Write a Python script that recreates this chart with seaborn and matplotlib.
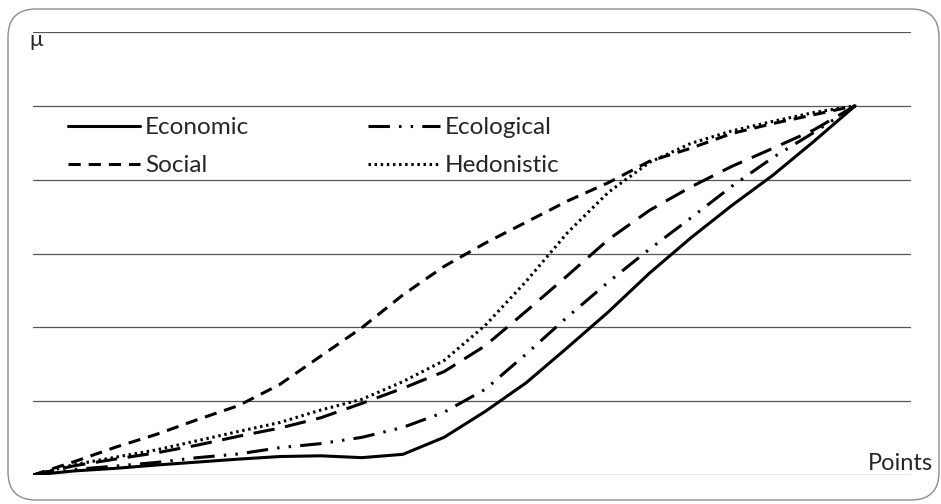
import matplotlib
matplotlib.use("Agg")
import matplotlib.pyplot as plt
import seaborn as sns
from matplotlib.patches import FancyBboxPatch
from matplotlib.lines import Line2D

# points axis, values every 5 points
points = [0, 5, 10, 15, 20, 25, 30, 35, 40, 45, 50,
          55, 60, 65, 70, 75, 80, 85, 90, 95, 100]

economic = [0, 0.011, 0.018, 0.027, 0.035, 0.043, 0.050, 0.052, 0.047, 0.056, 0.102,
            0.172, 0.250, 0.345, 0.442, 0.547, 0.642, 0.730, 0.812, 0.904, 1.0]
social = [0, 0.036, 0.075, 0.110, 0.150, 0.188, 0.245, 0.322, 0.399, 0.488, 0.565,
          0.628, 0.685, 0.742, 0.792, 0.850, 0.885, 0.925, 0.952, 0.976, 1.0]
ecological = [0, 0.015, 0.024, 0.034, 0.047, 0.057, 0.074, 0.085, 0.102, 0.129, 0.170,
              0.232, 0.328, 0.428, 0.523, 0.612, 0.696, 0.782, 0.860, 0.928, 1.0]
hedonistic = [0, 0.028, 0.048, 0.068, 0.093, 0.118, 0.142, 0.176, 0.205, 0.253, 0.310,
              0.405, 0.525, 0.656, 0.766, 0.847, 0.898, 0.932, 0.958, 0.982, 1.0]
# fifth curve (long dashes) has no entry in the legend
unlabeled = [0, 0.025, 0.043, 0.060, 0.081, 0.105, 0.127, 0.155, 0.194, 0.235, 0.280,
             0.350, 0.444, 0.540, 0.638, 0.717, 0.780, 0.836, 0.885, 0.935, 1.0]

labels = ["Economic", "Social", "Ecological", "Hedonistic"]

sns.set_style("white")
plt.rcParams["font.family"] = ["Lato", "DejaVu Sans"]

fig = plt.figure(figsize=(9.41, 5.04), dpi=100)
ax = fig.add_axes([33 / 941, 1 - 475 / 504, (911 - 33) / 941, (475 - 32) / 504])

for yv in [0, 0.2, 0.4, 0.6, 0.8, 1.0, 1.2]:
    ax.axhline(yv, color="#555555", lw=0.9, zorder=1)

lw = 2.2
styles = {
    "Economic": "-",
    "Social": (0, (4, 2.6)),
    "Ecological": (0, (7, 3, 0.8, 3, 0.8, 3)),
    "Hedonistic": (0, (0.8, 1.2)),
    "long": (0, (7, 3.5)),
}

sns.lineplot(x=points, y=economic, ax=ax, color="black", lw=lw, linestyle=styles["Economic"])
sns.lineplot(x=points, y=social, ax=ax, color="black", lw=lw, linestyle=styles["Social"])
sns.lineplot(x=points, y=ecological, ax=ax, color="black", lw=lw, linestyle=styles["Ecological"])
sns.lineplot(x=points, y=hedonistic, ax=ax, color="black", lw=lw, linestyle=styles["Hedonistic"])
sns.lineplot(x=points, y=unlabeled, ax=ax, color="black", lw=lw, linestyle=styles["long"])

ax.set_xlim(0, 106.8)
ax.set_ylim(0, 1.2)
ax.set_xticks([])
ax.set_yticks([])
for s in ax.spines.values():
    s.set_visible(False)

handles = [Line2D([], [], color="black", lw=lw, linestyle=styles[l]) for l in labels]
ax.legend(handles, labels, ncol=2, frameon=False, loc="upper left",
          bbox_to_anchor=(68 / 941, 1 - 117 / 504), bbox_transform=fig.transFigure,
          fontsize=17.5, handlelength=2.96, handletextpad=0.2, columnspacing=4.9,
          labelspacing=0.7, borderaxespad=0, borderpad=0)

fig.text(36 / 941, 1 - 40 / 504, "μ", fontsize=16, ha="center", va="center")
fig.text(933 / 941, 1 - 464 / 504, "Points", fontsize=17, ha="right", va="center")

frame = FancyBboxPatch((8 / 100, 4 / 100), 931 / 100, 491 / 100,
                       boxstyle="round,pad=0,rounding_size=0.28",
                       transform=fig.dpi_scale_trans, fill=False,
                       edgecolor="#8c8c8c", lw=1.0)
fig.add_artist(frame)

fig.savefig("out.png", dpi=100)
